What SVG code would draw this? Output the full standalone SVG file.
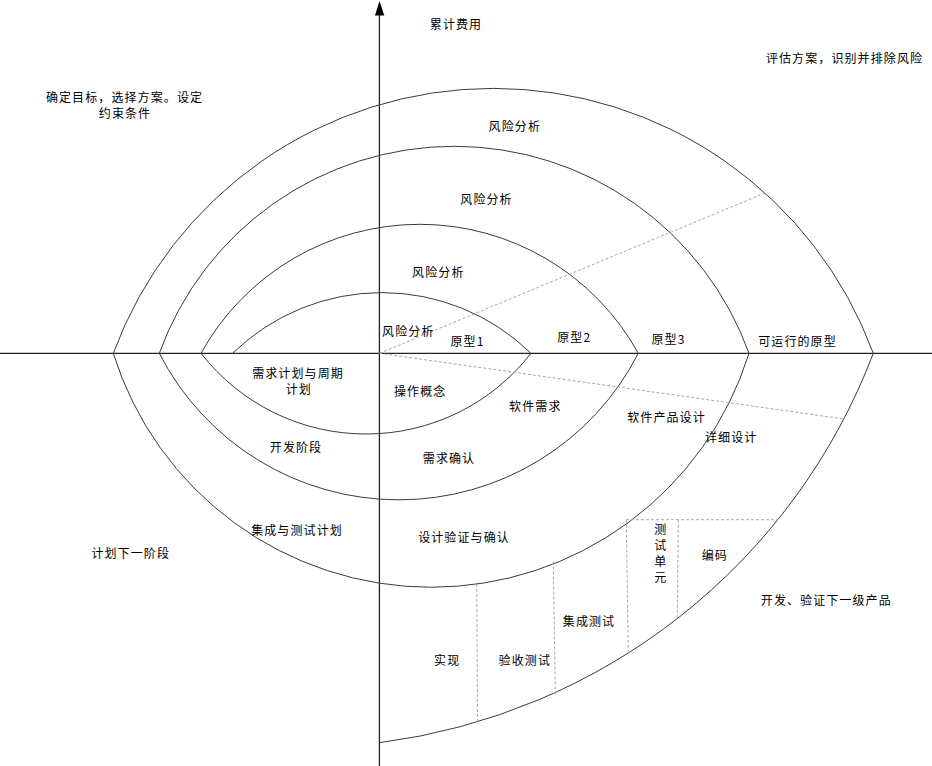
<svg xmlns="http://www.w3.org/2000/svg" width="932" height="766" viewBox="0 0 932 766">
<style>
.ax{stroke:#222;stroke-width:1.3;fill:none}
.arc{stroke:#3a3a3a;stroke-width:1;fill:none}
.dash{stroke:#a8a8a8;stroke-width:1;fill:none;stroke-dasharray:3 2}
text{font-family:"Noto Sans CJK SC","Noto Sans",sans-serif;font-size:12px;letter-spacing:1.1px;fill:#000;text-anchor:middle;dominant-baseline:central}
</style>
<rect width="932" height="766" fill="#fff"/>
<g id="axes">
<line class="ax" x1="0" y1="353.3" x2="932" y2="353.3"/>
<line class="ax" x1="379.4" y1="12" x2="379.4" y2="766"/>
<polygon points="379.5,1 375,15.5 384.3,15.5" fill="#000"/>
</g>
<g id="arcs">
<path class="arc" d="M232.7,353.3 A213.6,213.6 0 0 1 531,353.3"/>
<path class="arc" d="M201,353.3 A249.8,249.8 0 0 1 638.3,353.3"/>
<path class="arc" d="M159.3,353.3 A313.5,313.5 0 0 1 749,353.3"/>
<path class="arc" d="M113.3,353.3 A405,405 0 0 1 873.3,353.3"/>
<path class="arc" d="M201,353.3 A209,209 0 0 0 531,353.3"/>
<path class="arc" d="M159.3,353.3 A269,269 0 0 0 638.3,353.3"/>
<path class="arc" d="M113.3,353.3 A332.9,332.9 0 0 0 749,353.3"/>
<path class="arc" d="M873.3,353.3 A612,612 0 0 1 379.4,742.7"/>
</g>
<g id="connectors">
<line class="dash" x1="379.4" y1="353.3" x2="765" y2="193"/>
<line class="dash" x1="379.4" y1="353.3" x2="844.3" y2="419"/>
<line class="dash" x1="626" y1="519.7" x2="778" y2="519.7"/>
<line class="dash" x1="626.3" y1="519.7" x2="628.3" y2="653"/>
<line class="dash" x1="678.3" y1="519.7" x2="677.3" y2="618"/>
<line class="dash" x1="553.3" y1="561.5" x2="555.3" y2="694"/>
<line class="dash" x1="476.8" y1="584" x2="477.5" y2="722.5"/>
</g>
<g id="labels">
<text x="456" y="23">累计费用</text>
<text x="844.5" y="57.3">评估方案，识别并排除风险</text>
<text x="124.5" y="96.7">确定目标，选择方案。设定</text>
<text x="125" y="112.3">约束条件</text>
<text x="514.8" y="125.3">风险分析</text>
<text x="486.5" y="198.3">风险分析</text>
<text x="438.3" y="271.7">风险分析</text>
<text x="408.3" y="330">风险分析</text>
<text x="467.5" y="340">原型1</text>
<text x="574.2" y="336">原型2</text>
<text x="668.5" y="338.3">原型3</text>
<text x="797.5" y="340">可运行的原型</text>
<text x="298" y="372.3">需求计划与周期</text>
<text x="298.8" y="388.7">计划</text>
<text x="420.2" y="390.3">操作概念</text>
<text x="535.3" y="405.7">软件需求</text>
<text x="666.5" y="416.3">软件产品设计</text>
<text x="731.2" y="436.3">详细设计</text>
<text x="296" y="446.3">开发阶段</text>
<text x="449" y="457">需求确认</text>
<text x="297" y="529">集成与测试计划</text>
<text x="464" y="536.3">设计验证与确认</text>
<text x="130.7" y="552.3">计划下一阶段</text>
<text x="660.8" y="528">测</text>
<text x="660.8" y="544.3">试</text>
<text x="660.8" y="560.3">单</text>
<text x="660.8" y="576.3">元</text>
<text x="714.8" y="554.7">编码</text>
<text x="826.3" y="599.7">开发、验证下一级产品</text>
<text x="589" y="620.3">集成测试</text>
<text x="447.2" y="659.7">实现</text>
<text x="524.8" y="659.7">验收测试</text>
</g>
</svg>
